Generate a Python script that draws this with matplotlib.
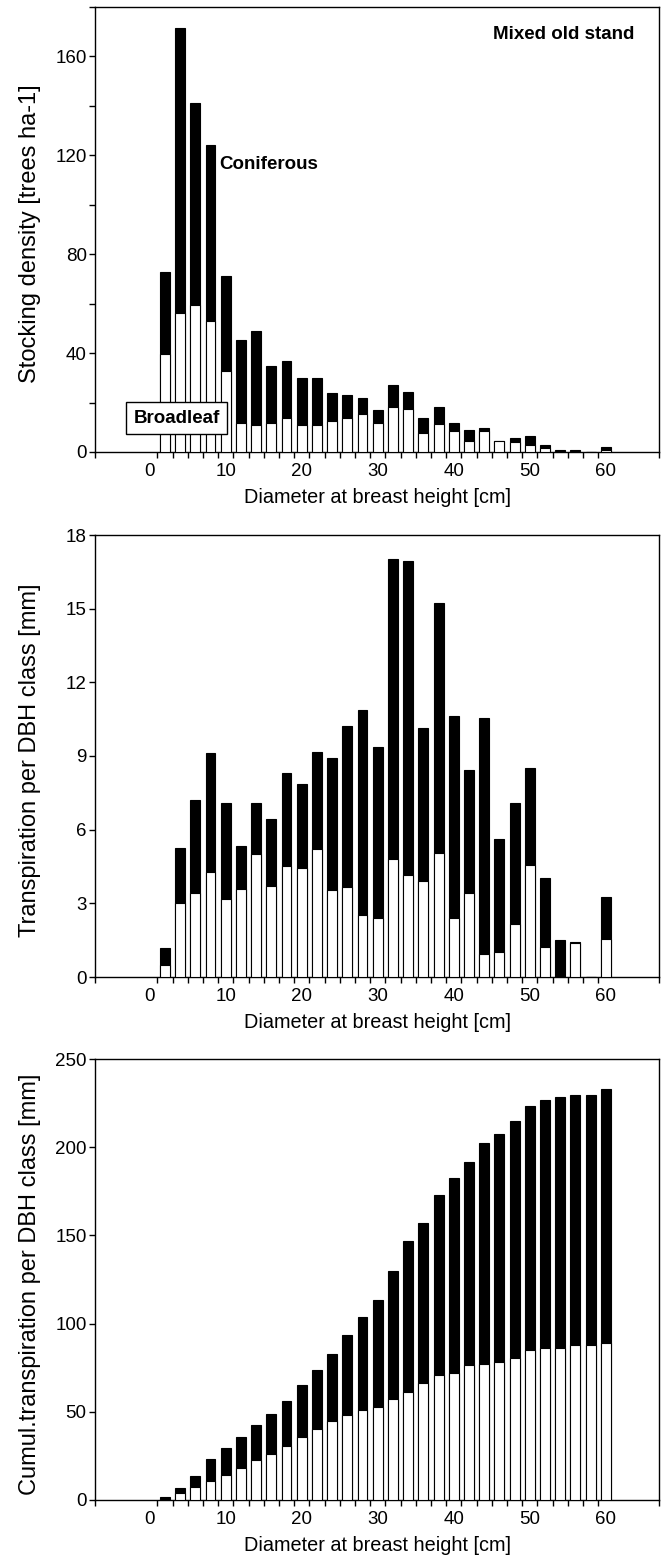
import matplotlib
matplotlib.use("Agg")
import matplotlib.pyplot as plt
from matplotlib.ticker import MultipleLocator, FixedLocator

plt.rcParams['font.family'] = ['Liberation Sans', 'DejaVu Sans']

dbh = [2, 4, 6, 8, 10, 12, 14, 16, 18, 20, 22, 24, 26, 28, 30,
       32, 34, 36, 38, 40, 42, 44, 46, 48, 50, 52, 54, 56, 58, 60]

# Panel 1: stocking density [trees ha-1]
stock_total = [73, 171.6, 141, 124.3, 71.2, 45.5, 48.8, 34.7, 36.8, 30, 30, 23.9, 23.2, 21.8, 16.8,
               27.2, 24.4, 13.6, 18.2, 11.7, 9.0, 9.8, 4.6, 5.7, 6.6, 2.8, 1.0, 0.8, 0.0, 2.0]
stock_broad = [39.6, 56.4, 59.3, 53.1, 32.7, 11.9, 11.1, 11.9, 13.9, 11.1, 11.1, 12.6, 13.7, 15.4, 11.6,
               18.3, 17.5, 7.7, 11.4, 8.6, 4.6, 8.6, 4.3, 4.0, 2.7, 1.6, 0.6, 0.3, 0.0, 0.7]

# Panel 2: transpiration per DBH class [mm]
tr_total = [1.2, 5.26, 7.2, 9.13, 7.07, 5.35, 7.07, 6.45, 8.29, 7.85, 9.17, 8.9, 10.23, 10.87, 9.38,
            17.01, 16.93, 10.12, 15.22, 10.64, 8.42, 10.54, 5.6, 7.07, 8.53, 4.03, 1.49, 1.43, 0.0, 3.26]
tr_broad = [0.48, 3.02, 3.44, 4.28, 3.17, 3.59, 5.0, 3.72, 4.52, 4.42, 5.23, 3.53, 3.67, 2.54, 2.4,
            4.8, 4.14, 3.91, 5.04, 2.4, 3.44, 0.95, 1.03, 2.17, 4.58, 1.22, 0.0, 1.39, 0.0, 1.55]

# Panel 3: cumulative transpiration per DBH class [mm]
cum_total = [1.5, 6.7, 13.7, 23.2, 29.5, 35.6, 42.7, 48.6, 56.4, 65.2, 73.6, 82.9, 93.4, 103.9, 113.2,
             130.1, 147.1, 156.8, 172.8, 182.7, 191.7, 202.2, 207.6, 214.6, 223.2, 227.0, 228.3, 229.6, 229.6, 233.0]
cum_broad = [0.4, 3.8, 7.1, 10.9, 13.9, 18.1, 22.7, 26.3, 30.5, 35.8, 40.4, 44.6, 48.2, 50.9, 52.8,
             57.4, 61.5, 66.1, 70.7, 72.2, 76.6, 77.0, 78.3, 80.6, 85.0, 86.3, 86.3, 87.6, 87.6, 89.1]

xlabels = [0, 10, 20, 30, 40, 50, 60]

W, H = 665, 1557
fig = plt.figure(figsize=(W / 100, H / 100), dpi=100)

def axrect(left, right, top, bottom):
    return [left / W, 1 - bottom / H, (right - left) / W, (bottom - top) / H]

XL, XR = -7.2, 67.0
panels = [
    (axrect(95, 659, 7, 452), stock_total, stock_broad, (0, 180), 40, 20,
     'Stocking density [trees ha-1]', 0.49),
    (axrect(95, 659, 535, 977), tr_total, tr_broad, (0, 18), 3, None,
     'Transpiration per DBH class [mm]', 0.49),
    (axrect(95, 659, 1059, 1500), cum_total, cum_broad, (0, 250), 50, None,
     'Cumul.transpiration per DBH class [mm]', 0.49),
]

axes = []
for rect, tot, brd, ylim, ymaj, ymin, ylab, ly in panels:
    ax = fig.add_axes(rect)
    ax.bar(dbh, tot, width=1.3, color='black', edgecolor='black', linewidth=0.8, zorder=2)
    ax.bar(dbh, brd, width=1.3, color='white', edgecolor='black', linewidth=0.8, zorder=3)
    ax.set_xlim(XL, XR)
    ax.set_ylim(*ylim)
    ax.xaxis.set_major_locator(FixedLocator(xlabels))
    ax.xaxis.set_minor_locator(FixedLocator([XL] + list(range(1, 60, 2)) + [XR]))
    ax.tick_params(axis='x', which='major', length=0, pad=8, labelsize=13.5)
    ax.tick_params(axis='x', which='minor', length=4, width=1, direction='out')
    ax.yaxis.set_major_locator(MultipleLocator(ymaj))
    if ymin:
        ax.yaxis.set_minor_locator(MultipleLocator(ymin))
        ax.tick_params(axis='y', which='minor', length=4, width=1, direction='out')
    ax.tick_params(axis='y', which='major', length=4, width=1, direction='out', labelsize=13.5, pad=2)
    for sp in ax.spines.values():
        sp.set_linewidth(1.0)
    ax.set_xlabel('Diameter at breast height [cm]', fontsize=14.3, labelpad=6)
    ax.set_ylabel(ylab, fontsize=17)
    ax.yaxis.set_label_coords((41 - 95) / 564, ly)
    axes.append(ax)

ax1 = axes[0]
ax1.text(63.8, 169, 'Mixed old stand', ha='right', va='center', fontsize=13.5, fontweight='bold')
ax1.text(9.2, 116.4, 'Coniferous', ha='left', va='center', fontsize=13.5, fontweight='bold')
ax1.text(3.55, 13.7, 'Broadleaf', ha='center', va='center', fontsize=13.5, fontweight='bold', zorder=5,
         bbox=dict(boxstyle='square,pad=0.4', facecolor='white', edgecolor='black', linewidth=1))

fig.savefig('out.png', dpi=100)
